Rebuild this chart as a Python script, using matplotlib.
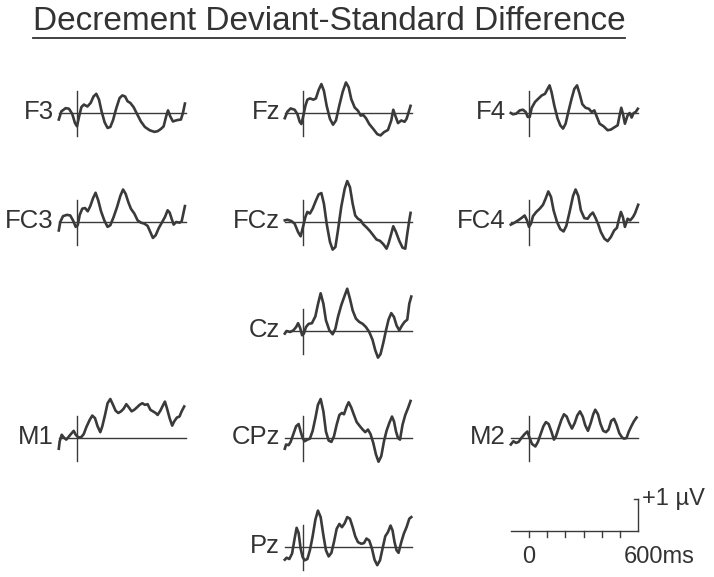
import matplotlib
matplotlib.use('Agg')
import matplotlib.pyplot as plt

plt.rcParams['font.family'] = ['Liberation Sans', 'DejaVu Sans']

# Zeit in ms, Amplitude in µV
f3_ms = [-100, -86, -62, -44, -26, -11, 0, 11, 24, 38, 57, 75, 91, 106, 121, 135, 152, 168, 183, 198, 216, 234, 249, 264, 278, 293, 311, 329, 351, 373, 399, 425, 443, 461, 476, 490, 500, 512, 527, 549, 571, 582, 593]
f3_uv = [-0.2, 0.05, 0.15, 0.13, -0.03, -0.31, -0.41, -0.12, 0.18, 0.26, 0.2, 0.31, 0.51, 0.59, 0.41, 0.05, -0.29, -0.46, -0.43, -0.22, 0.15, 0.46, 0.54, 0.51, 0.36, 0.31, 0.18, -0.02, -0.26, -0.43, -0.53, -0.58, -0.56, -0.49, -0.41, -0.1, 0.08, -0.1, -0.26, -0.22, -0.2, 0.0, 0.29]

fz_ms = [-100, -86, -68, -46, -31, -18, -9, 2, 13, 24, 38, 57, 71, 86, 101, 115, 130, 148, 165, 181, 199, 218, 236, 251, 265, 284, 302, 317, 331, 346, 364, 386, 408, 426, 445, 467, 485, 496, 507, 522, 540, 558, 569, 580, 591]
fz_uv = [-0.16, 0.04, 0.14, 0.1, -0.03, -0.27, -0.34, -0.08, 0.22, 0.41, 0.45, 0.41, 0.45, 0.71, 0.89, 0.68, 0.22, -0.18, -0.36, -0.23, 0.22, 0.65, 0.94, 0.79, 0.43, 0.17, 0.07, -0.08, -0.06, -0.16, -0.34, -0.49, -0.65, -0.69, -0.59, -0.52, -0.23, 0.1, -0.08, -0.31, -0.23, -0.27, -0.18, 0.02, 0.22]

f4_ms = [-100, -88, -70, -51, -33, -18, -7, 4, 15, 33, 51, 70, 88, 102, 113, 124, 139, 157, 172, 187, 201, 216, 234, 249, 264, 278, 293, 311, 329, 344, 359, 373, 388, 410, 432, 450, 472, 487, 498, 507, 516, 527, 542, 553, 564, 575, 586, 598]
f4_uv = [0.0, -0.04, -0.02, 0.08, 0.1, 0.03, -0.12, -0.12, 0.16, 0.34, 0.44, 0.54, 0.59, 0.74, 0.85, 0.64, 0.23, -0.17, -0.38, -0.48, -0.33, 0.03, 0.44, 0.74, 0.85, 0.59, 0.27, 0.16, 0.13, 0.03, 0.08, -0.12, -0.33, -0.41, -0.53, -0.51, -0.43, -0.38, -0.07, 0.16, -0.02, -0.33, -0.07, 0.0, -0.14, 0.0, 0.03, 0.13]

fc3_ms = [-100, -92, -77, -55, -37, -22, -7, 4, 15, 29, 44, 59, 73, 88, 102, 117, 132, 150, 168, 183, 201, 220, 238, 253, 267, 282, 296, 315, 333, 351, 370, 388, 403, 417, 432, 450, 468, 483, 498, 509, 520, 531, 545, 564, 575, 582, 593]
fc3_uv = [-0.26, 0.0, 0.18, 0.22, 0.2, 0.05, -0.15, -0.1, 0.22, 0.41, 0.43, 0.33, 0.49, 0.73, 0.9, 0.66, 0.33, 0.05, -0.15, -0.1, 0.15, 0.46, 0.8, 1.0, 0.87, 0.61, 0.41, 0.26, 0.05, -0.02, -0.05, -0.12, -0.31, -0.49, -0.41, -0.18, 0.0, 0.15, 0.36, 0.29, 0.1, -0.08, 0.0, -0.02, 0.02, 0.2, 0.49]

fcz_ms = [-100, -86, -64, -46, -27, -13, 0, 13, 24, 38, 53, 71, 86, 101, 115, 130, 148, 163, 178, 192, 210, 229, 243, 258, 273, 287, 302, 317, 331, 350, 368, 386, 404, 423, 441, 459, 470, 485, 496, 511, 529, 547, 562, 573, 584, 591]
fcz_uv = [0.05, 0.07, 0.03, -0.05, -0.31, -0.44, -0.15, 0.15, 0.31, 0.26, 0.41, 0.66, 0.85, 0.89, 0.56, -0.05, -0.61, -0.85, -0.77, -0.26, 0.46, 1.02, 1.26, 1.07, 0.56, 0.2, 0.1, 0.05, -0.07, -0.17, -0.28, -0.41, -0.54, -0.58, -0.68, -0.82, -0.66, -0.36, -0.13, -0.31, -0.58, -0.79, -0.82, -0.36, 0.05, 0.28]

fc4_ms = [-100, -79, -60, -42, -24, -11, 0, 11, 22, 40, 59, 77, 92, 106, 121, 135, 154, 172, 190, 205, 223, 242, 256, 271, 285, 304, 322, 337, 351, 366, 381, 395, 414, 432, 450, 468, 483, 494, 505, 516, 527, 542, 556, 571, 582, 600]
fc4_uv = [-0.08, -0.02, 0.05, 0.12, 0.2, 0.05, -0.15, -0.05, 0.18, 0.31, 0.41, 0.53, 0.73, 0.94, 0.77, 0.36, 0.0, -0.22, -0.29, -0.12, 0.31, 0.8, 1.0, 0.8, 0.36, 0.12, 0.1, 0.22, 0.29, 0.12, -0.08, -0.31, -0.51, -0.59, -0.46, -0.26, -0.18, 0.08, 0.31, 0.15, -0.15, 0.1, 0.05, 0.15, 0.26, 0.53]

cz_ms = [-100, -90, -71, -53, -38, -27, -16, -5, 5, 16, 31, 49, 68, 82, 97, 112, 126, 145, 163, 178, 192, 210, 229, 243, 258, 273, 291, 309, 328, 346, 364, 382, 397, 412, 426, 441, 456, 470, 485, 500, 514, 529, 544, 558, 573, 584, 595]
cz_uv = [-0.08, 0.0, -0.03, 0.02, 0.12, 0.24, 0.1, -0.13, -0.08, 0.12, 0.22, 0.24, 0.45, 0.82, 1.16, 0.84, 0.33, 0.02, -0.1, 0.07, 0.43, 0.79, 1.09, 1.3, 0.99, 0.63, 0.38, 0.28, 0.22, 0.12, -0.03, -0.27, -0.59, -0.82, -0.71, -0.37, 0.02, 0.35, 0.55, 0.43, 0.17, 0.02, 0.17, 0.28, 0.35, 0.84, 1.06]

m1_ms = [-100, -95, -84, -73, -59, -44, -29, -18, -7, 7, 22, 37, 51, 70, 84, 99, 113, 128, 139, 154, 168, 183, 198, 212, 227, 242, 256, 271, 285, 300, 315, 329, 344, 359, 373, 388, 403, 417, 432, 443, 458, 472, 483, 494, 509, 523, 534, 549, 563, 575, 589]
m1_uv = [-0.33, -0.1, 0.1, 0.02, -0.05, 0.05, 0.15, 0.22, 0.1, 0.02, 0.02, 0.12, 0.33, 0.56, 0.69, 0.61, 0.36, 0.18, 0.36, 0.71, 1.07, 1.2, 1.02, 0.84, 0.77, 0.82, 0.9, 1.04, 0.94, 0.82, 0.87, 0.94, 1.02, 1.07, 1.02, 1.04, 0.87, 0.82, 0.77, 0.71, 0.84, 1.0, 1.12, 0.92, 0.61, 0.38, 0.51, 0.63, 0.66, 0.82, 0.97]

cpz_ms = [-100, -93, -79, -68, -53, -38, -24, -13, -2, 9, 24, 38, 53, 68, 82, 97, 112, 126, 141, 156, 170, 185, 200, 214, 225, 240, 251, 265, 280, 295, 313, 328, 342, 357, 371, 386, 401, 415, 430, 445, 459, 474, 489, 500, 511, 522, 533, 547, 562, 577, 591]
cpz_uv = [-0.33, -0.2, -0.22, -0.12, 0.12, 0.36, 0.43, 0.2, 0.0, -0.1, -0.05, -0.02, 0.22, 0.61, 1.02, 1.2, 0.82, 0.2, -0.08, -0.12, 0.05, 0.41, 0.71, 0.77, 0.73, 0.97, 1.1, 0.94, 0.71, 0.49, 0.36, 0.26, 0.18, 0.26, 0.12, -0.15, -0.51, -0.73, -0.56, -0.1, 0.22, 0.46, 0.66, 0.51, 0.2, 0.0, -0.05, 0.41, 0.71, 0.92, 1.14]

m2_ms = [-100, -86, -71, -57, -42, -24, -9, 2, 16, 35, 49, 64, 79, 93, 108, 123, 137, 148, 163, 178, 192, 207, 221, 236, 251, 265, 280, 295, 309, 324, 339, 353, 364, 379, 393, 408, 423, 437, 452, 467, 481, 496, 511, 522, 536, 547, 562, 576, 591]
m2_uv = [-0.2, -0.1, -0.15, -0.12, 0.0, 0.12, 0.2, 0.02, -0.18, -0.26, -0.12, 0.12, 0.36, 0.49, 0.43, 0.2, -0.05, 0.05, 0.31, 0.56, 0.73, 0.66, 0.46, 0.29, 0.46, 0.69, 0.82, 0.66, 0.39, 0.22, 0.46, 0.73, 0.87, 0.73, 0.43, 0.22, 0.18, 0.26, 0.53, 0.59, 0.41, 0.15, 0.02, -0.02, 0.0, 0.18, 0.36, 0.51, 0.63]

pz_ms = [-100, -90, -75, -60, -46, -35, -24, -13, -2, 9, 24, 38, 53, 68, 82, 97, 112, 126, 141, 156, 170, 185, 200, 214, 229, 243, 258, 273, 287, 302, 320, 335, 349, 364, 379, 393, 408, 423, 437, 452, 467, 481, 492, 503, 514, 525, 540, 554, 569, 584, 595]
pz_uv = [-0.39, -0.33, -0.37, -0.2, 0.26, 0.59, 0.43, -0.05, -0.31, -0.41, -0.37, -0.1, 0.33, 0.84, 1.12, 0.92, 0.36, -0.1, -0.29, -0.18, 0.15, 0.56, 0.71, 0.61, 0.73, 0.92, 0.87, 0.61, 0.33, 0.15, 0.1, 0.12, 0.26, 0.2, -0.05, -0.39, -0.56, -0.41, -0.05, 0.33, 0.46, 0.66, 0.51, 0.15, -0.1, -0.18, 0.15, 0.41, 0.61, 0.87, 0.92]

# Elektroden-Layout: (name, zeiten, werte, spalte, zeile)
channels = [
    ('F3', f3_ms, f3_uv, 0, 0), ('Fz', fz_ms, fz_uv, 1, 0), ('F4', f4_ms, f4_uv, 2, 0),
    ('FC3', fc3_ms, fc3_uv, 0, 1), ('FCz', fcz_ms, fcz_uv, 1, 1), ('FC4', fc4_ms, fc4_uv, 2, 1),
    ('Cz', cz_ms, cz_uv, 1, 2),
    ('M1', m1_ms, m1_uv, 0, 3), ('CPz', cpz_ms, cpz_uv, 1, 3), ('M2', m2_ms, m2_uv, 2, 3),
    ('Pz', pz_ms, pz_uv, 1, 4),
]

W, H = 714, 577
col_x = [77, 303, 529]          # pixel of 0 ms
row_y = [113, 222, 331, 438, 547]  # pixel of baseline
px_per_ms = 0.182
px_per_uv = 32.5
grey = '#3a3a3a'

fig = plt.figure(figsize=(W / 100, H / 100), dpi=100)


def add_panel(x0, y0):
    left = x0 - 100 * px_per_ms
    width = 700 * px_per_ms
    height = 3.0 * px_per_uv
    bottom = H - y0 - height / 2
    ax = fig.add_axes([left / W, bottom / H, width / W, height / H])
    ax.set_xlim(-100, 600)
    ax.set_ylim(-1.5, 1.5)
    ax.axis('off')
    return ax


for name, t, v, c, r in channels:
    ax = add_panel(col_x[c], row_y[r])
    ax.plot([-100, 600], [0, 0], color=grey, lw=1.0, clip_on=False)
    ax.plot([0, 0], [-0.7, 0.67], color=grey, lw=1.0, clip_on=False)
    ax.plot(t, v, color=grey, lw=1.9, clip_on=False, solid_joinstyle='round')
    ax.text(-127, 0.03, name, ha='right', va='center', fontsize=18.5, color='#333333')

# Massstab
ax = add_panel(529, 531)
ax.plot([-100, 600], [0, 0], color=grey, lw=1.0, clip_on=False)
for tick in range(0, 600, 100):
    ax.plot([tick, tick], [0, -0.18], color=grey, lw=1.0, clip_on=False)
ax.plot([600, 600], [0, 1.0], color=grey, lw=1.0, clip_on=False)
ax.plot([575, 600], [1.0, 1.0], color=grey, lw=1.0, clip_on=False)
ax.text(620, 1.0, '+1 µV', ha='left', va='center', fontsize=17, color='#333333')
ax.text(0, -0.8, '0', ha='center', va='center', fontsize=17, color='#333333')
ax.text(522, -0.8, '600ms', ha='left', va='center', fontsize=17, color='#333333')

# Titel (unterstrichen)
fig.text(329 / W, 1 - 21 / H, 'Decrement Deviant-Standard Difference', ha='center', va='center',
         fontsize=24, color='#333333')
fig.add_artist(plt.Line2D([33 / W, 625 / W], [1 - 38 / H, 1 - 38 / H], color='#333333', lw=1.3))

fig.savefig('out.png', dpi=100, facecolor='white')
